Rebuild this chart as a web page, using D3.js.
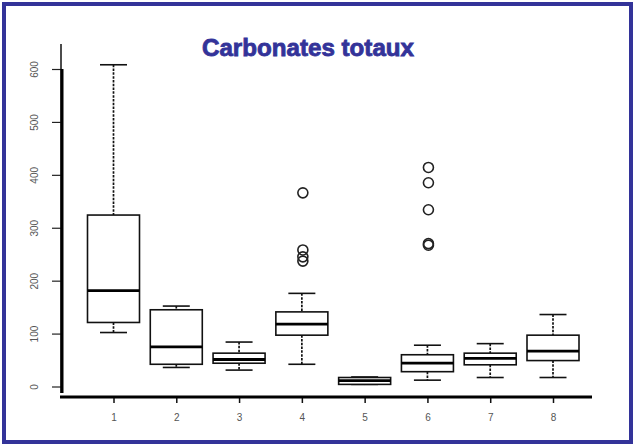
<!DOCTYPE html>
<html>
<head>
<meta charset="utf-8">
<script src="https://cdn.jsdelivr.net/npm/d3@7"></script>
<style>
  body { margin: 0; background: #fff; }
  svg { display: block; }
</style>
</head>
<body>
<div id="chart-area"></div>
<script>
// data (boxplot stats per group)
let groups   = [1, 2, 3, 4, 5, 6, 7, 8];
let whiskLo  = [102, 36, 31, 42, 4, 12, 17, 17];
let q1       = [121, 42, 44, 97, 4, 28, 41, 49];
let medians  = [181, 75, 51, 118, 11, 44, 53, 67];
let q3       = [324, 145, 63, 141, 17, 60, 63, 97];
let whiskHi  = [608, 152, 84, 176, 18, 78, 81, 136];
let outliers = [[], [], [], [366, 258, 245, 237], [], [414, 385, 334, 270, 267], [], []];
let yTicks   = [0, 100, 200, 300, 400, 500, 600];

let W = 634, H = 446;

let svg = d3.select("#chart-area").append("svg")
    .attr("width", W)
    .attr("height", H);

// blue frame
svg.append("rect")
    .attr("x", 4).attr("y", 4)
    .attr("width", 627).attr("height", 438)
    .attr("fill", "#fff")
    .attr("stroke", "#333399")
    .attr("stroke-width", 4);

// scales
let xScale = d3.scaleLinear().domain([1, 8]).range([113.5, 553]);
let yScale = d3.scaleLinear().domain([0, 600]).range([386.5, 69]);

let boxW = 52, capW = 27;

// y axis
let yAxis = d3.axisLeft(yScale)
    .tickValues(yTicks)
    .tickSize(10)
    .tickFormat(d3.format("d"));

let yGroup = svg.append("g")
    .attr("class", "y_axis axis")
    .attr("transform", "translate(62,0)")
    .call(yAxis);
yGroup.select(".domain").remove();
yGroup.selectAll(".tick line").attr("stroke", "#222").attr("stroke-width", 1.2);
yGroup.selectAll(".tick text")
    .attr("x", 0).attr("dy", 0)
    .attr("transform", "translate(-27,0) rotate(-90)")
    .attr("text-anchor", "middle")
    .attr("dominant-baseline", "middle")
    .attr("fill", "#555")
    .style("font", "10px 'Liberation Sans', Arial, sans-serif");

// thin upper part + thick axis line
svg.append("line")
    .attr("x1", 61).attr("x2", 61).attr("y1", 44).attr("y2", 393)
    .attr("stroke", "#111").attr("stroke-width", 1.5);
svg.append("line")
    .attr("x1", 62).attr("x2", 62).attr("y1", yScale(600)).attr("y2", 393)
    .attr("stroke", "#000").attr("stroke-width", 3);

// x axis
let xAxis = d3.axisBottom(xScale)
    .tickValues(groups)
    .tickSize(6)
    .tickFormat(d3.format("d"));

let xGroup = svg.append("g")
    .attr("class", "x_axis axis")
    .attr("transform", "translate(0,397)")
    .call(xAxis);
xGroup.select(".domain").remove();
xGroup.selectAll(".tick line").attr("stroke", "#111").attr("stroke-width", 1.5);
xGroup.selectAll(".tick text")
    .attr("y", 24)
    .attr("dy", 0)
    .attr("fill", "#555")
    .style("font", "10px 'Liberation Sans', Arial, sans-serif");

svg.append("line")
    .attr("x1", 60).attr("x2", 592).attr("y1", 397).attr("y2", 397)
    .attr("stroke", "#000").attr("stroke-width", 3);

// boxes
let stats = groups.map((g, i) => ({
    g: g, lo: whiskLo[i], q1: q1[i], med: medians[i], q3: q3[i], hi: whiskHi[i], out: outliers[i]
}));

let boxes = svg.selectAll(".box")
    .data(stats)
    .enter().append("g")
    .attr("class", "box");

// dashed whiskers
boxes.append("line")
    .attr("x1", d => xScale(d.g)).attr("x2", d => xScale(d.g))
    .attr("y1", d => yScale(d.hi)).attr("y2", d => yScale(d.q3))
    .attr("stroke", "#111").attr("stroke-width", 1.7).attr("stroke-dasharray", "2.5,1.3");
boxes.append("line")
    .attr("x1", d => xScale(d.g)).attr("x2", d => xScale(d.g))
    .attr("y1", d => yScale(d.q1)).attr("y2", d => yScale(d.lo))
    .attr("stroke", "#111").attr("stroke-width", 1.7).attr("stroke-dasharray", "2.5,1.3");

// caps
boxes.append("line")
    .attr("x1", d => xScale(d.g) - capW / 2).attr("x2", d => xScale(d.g) + capW / 2)
    .attr("y1", d => yScale(d.hi)).attr("y2", d => yScale(d.hi))
    .attr("stroke", "#111").attr("stroke-width", 1.6);
boxes.append("line")
    .attr("x1", d => xScale(d.g) - capW / 2).attr("x2", d => xScale(d.g) + capW / 2)
    .attr("y1", d => yScale(d.lo)).attr("y2", d => yScale(d.lo))
    .attr("stroke", "#111").attr("stroke-width", 1.6);

// box
boxes.append("rect")
    .attr("x", d => xScale(d.g) - boxW / 2)
    .attr("y", d => yScale(d.q3))
    .attr("width", boxW)
    .attr("height", d => yScale(d.q1) - yScale(d.q3))
    .attr("fill", "#fff")
    .attr("stroke", "#111").attr("stroke-width", 1.6);

// median
boxes.append("line")
    .attr("x1", d => xScale(d.g) - boxW / 2).attr("x2", d => xScale(d.g) + boxW / 2)
    .attr("y1", d => yScale(d.med)).attr("y2", d => yScale(d.med))
    .attr("stroke", "#000").attr("stroke-width", 2.8);

// outliers
boxes.selectAll(".out")
    .data(d => d.out.map(v => ({g: d.g, v: v})))
    .enter().append("circle")
    .attr("class", "out")
    .attr("cx", d => xScale(d.g) + 1)
    .attr("cy", d => yScale(d.v))
    .attr("r", 5)
    .attr("fill", "none")
    .attr("stroke", "#222").attr("stroke-width", 1.6);

// title
svg.append("text")
    .attr("x", 308).attr("y", 56)
    .attr("text-anchor", "middle")
    .attr("fill", "#333399")
    .attr("stroke", "#333399").attr("stroke-width", 0.8)
    .attr("textLength", 212)
    .attr("lengthAdjust", "spacingAndGlyphs")
    .style("font", "bold 23px 'Liberation Sans Narrow', 'Liberation Sans', Arial, sans-serif")
    .text("Carbonates totaux");
</script>
</body>
</html>
